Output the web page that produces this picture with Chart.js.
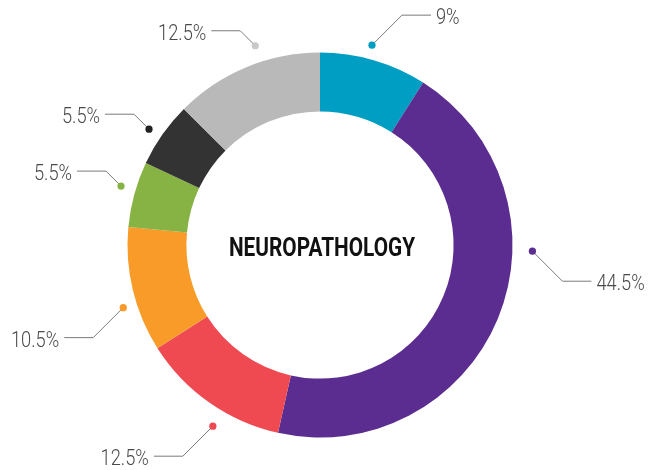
<!DOCTYPE html>
<html>
<head>
<meta charset="utf-8">
<script src="https://cdn.jsdelivr.net/npm/chart.js@4/dist/chart.umd.min.js"></script>
<style>
  html, body { margin: 0; padding: 0; background: #ffffff; }
  #wrap { width: 660px; height: 470px; }
</style>
</head>
<body>
<div id="wrap"><canvas id="chart" width="660" height="470"></canvas></div>
<script>
// Share of cases per segment, clockwise from 12 o'clock
const shares = [9, 44.5, 12.5, 10.5, 5.5, 5.5, 12.5];
const segmentColors = ['#009ec3', '#5c2d91', '#ef4a52', '#f89b29', '#87b244', '#333333', '#b9b9b9'];
const dotColors = ['#009ec3', '#5c2d91', '#ef4a52', '#f89b29', '#87b244', '#222222', '#c9c9c9'];
const centerTitle = 'NEUROPATHOLOGY';

// Callout layout: where along each arc the dot sits (0..1), its distance past the rim,
// and the length of the diagonal leg
const calloutAt = [0.45, 0.37, 0.40, 0.39, 0.56, 0.45, 0.60];
const calloutGap = [14, 20, 18, 14, 15, 14, 17];
const calloutLeg = [30, 30, 30, 30, 15, 15, 15];

const labels = shares.map(v => v + '%');

const calloutPlugin = {
  id: 'callouts',
  afterDraw(chart) {
    const ctx = chart.ctx;
    const meta = chart.getDatasetMeta(0);
    meta.data.forEach((arc, i) => {
      const p = arc.getProps(['x', 'y', 'startAngle', 'endAngle', 'outerRadius'], true);
      const a = p.startAngle + calloutAt[i] * (p.endAngle - p.startAngle);
      const r = p.outerRadius + calloutGap[i];
      const dx = p.x + r * Math.cos(a);
      const dy = p.y + r * Math.sin(a);
      const sx = Math.cos(a) >= 0 ? 1 : -1;
      const sy = Math.sin(a) >= 0 ? 1 : -1;
      const leg = calloutLeg[i];
      const ex = dx + sx * leg;
      const ey = dy + sy * leg;
      const lx = ex + sx * 29;

      ctx.save();
      ctx.strokeStyle = '#7a7a7a';
      ctx.lineWidth = 1;
      ctx.beginPath();
      ctx.moveTo(dx, dy);
      ctx.lineTo(ex, ey);
      ctx.lineTo(lx, ey);
      ctx.stroke();

      ctx.fillStyle = dotColors[i];
      ctx.beginPath();
      ctx.arc(dx, dy, 3.6, 0, Math.PI * 2);
      ctx.fill();

      ctx.fillStyle = '#4a4a4a';
      ctx.font = '300 22px Roboto, "Liberation Sans", sans-serif';
      ctx.textBaseline = 'alphabetic';
      ctx.textAlign = sx > 0 ? 'left' : 'right';
      ctx.translate(lx + sx * 5, ey + 9);
      ctx.scale(0.83, 1);
      ctx.fillText(labels[i], 0, 0);
      ctx.restore();
    });

    // Title in the hole of the ring
    const c = meta.data[0];
    ctx.save();
    ctx.fillStyle = '#111111';
    ctx.font = 'bold 26px Roboto, "Liberation Sans", sans-serif';
    ctx.textAlign = 'center';
    ctx.textBaseline = 'alphabetic';
    ctx.translate(c.x + 2, c.y + 10.5);
    ctx.scale(0.80, 1);
    ctx.fillText(centerTitle, 0, 0);
    ctx.restore();
  }
};

new Chart(document.getElementById('chart'), {
  type: 'doughnut',
  data: {
    labels: labels,
    datasets: [{
      data: shares,
      backgroundColor: segmentColors,
      borderWidth: 0,
      hoverOffset: 0
    }]
  },
  options: {
    responsive: false,
    animation: false,
    cutout: '69.4%',
    layout: { padding: { top: 52.5, bottom: 32.5, left: 0, right: 20 } },
    plugins: {
      legend: { display: false },
      tooltip: { enabled: false }
    }
  },
  plugins: [calloutPlugin]
});
</script>
</body>
</html>
